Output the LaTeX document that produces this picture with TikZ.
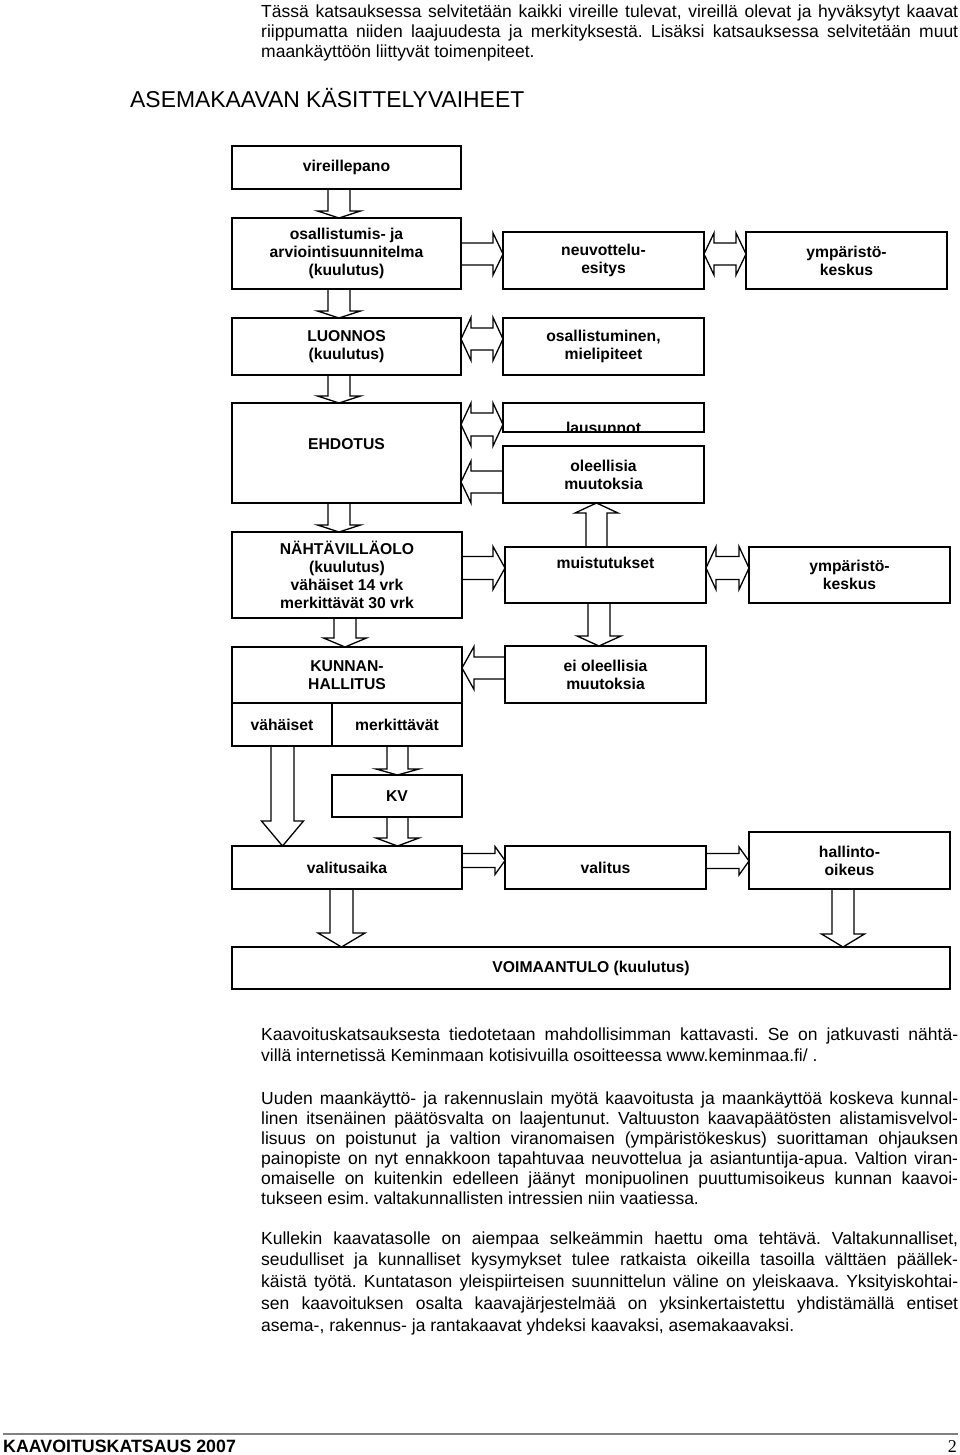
\documentclass[tikz,border=0pt]{standalone}
\usepackage{fontspec}
\setmainfont{Liberation Sans}
\newfontfamily\serifnum{Liberation Serif}
\usetikzlibrary{calc}
\frenchspacing
\tikzset{
  box/.style={draw, line width=1.6pt, inner sep=0pt, outer sep=0pt, align=center,
    font=\bfseries\fontsize{15.7}{18}\selectfont},
  lbl/.style={inner sep=0pt, font=\bfseries\fontsize{15.7}{18}\selectfont},
  blk/.style={draw, line width=1.3pt, line join=miter},
  txt/.style={anchor=base west, inner sep=0pt, font=\fontsize{17.5}{20}\selectfont}
}
\newcommand\bx[6]{\node[box, minimum width={(#4-#2)*1pt}, minimum height={(#5-#3)*1pt}] (#1) at ({(#2+#4)/2},{(#3+#5)/2}) {#6};}
\newcommand\arDown[6]{\draw[blk] let \p1=(#1.south), \p2=(#2.north) in
 (#3pt-#4pt,\y1) -- (#3pt-#4pt,\y2+#6pt) -- (#3pt-#5pt,\y2+#6pt) -- (#3pt,\y2) -- (#3pt+#5pt,\y2+#6pt) -- (#3pt+#4pt,\y2+#6pt) -- (#3pt+#4pt,\y1);}
\newcommand\arUp[6]{\draw[blk] let \p1=(#1.north), \p2=(#2.south) in
 (#3pt-#4pt,\y1) -- (#3pt-#4pt,\y2-#6pt) -- (#3pt-#5pt,\y2-#6pt) -- (#3pt,\y2) -- (#3pt+#5pt,\y2-#6pt) -- (#3pt+#4pt,\y2-#6pt) -- (#3pt+#4pt,\y1);}
\newcommand\arRight[6]{\draw[blk] let \p1=(#1.east), \p2=(#2.west) in
 (\x1,-#3pt+#4pt) -- (\x2-#6pt,-#3pt+#4pt) -- (\x2-#6pt,-#3pt+#5pt) -- (\x2,-#3pt) -- (\x2-#6pt,-#3pt-#5pt) -- (\x2-#6pt,-#3pt-#4pt) -- (\x1,-#3pt-#4pt);}
\newcommand\arLeft[6]{\draw[blk] let \p1=(#1.west), \p2=(#2.east) in
 (\x1,-#3pt+#4pt) -- (\x2+#6pt,-#3pt+#4pt) -- (\x2+#6pt,-#3pt+#5pt) -- (\x2,-#3pt) -- (\x2+#6pt,-#3pt-#5pt) -- (\x2+#6pt,-#3pt-#4pt) -- (\x1,-#3pt-#4pt);}
\newcommand\arBoth[6]{\draw[blk] let \p1=(#1.east), \p2=(#2.west) in
 (\x1,-#3pt) -- (\x1+#6pt,-#3pt+#5pt) -- (\x1+#6pt,-#3pt+#4pt) -- (\x2-#6pt,-#3pt+#4pt) -- (\x2-#6pt,-#3pt+#5pt) -- (\x2,-#3pt) -- (\x2-#6pt,-#3pt-#5pt) -- (\x2-#6pt,-#3pt-#4pt) -- (\x1+#6pt,-#3pt-#4pt) -- (\x1+#6pt,-#3pt-#5pt) -- cycle;}
\newcommand\jline[3]{\node[txt] (#1) at (261,#2) {\makebox[697pt][s]{#3}};}
\newcommand\rline[3]{\node[txt] (#1) at (261,#2) {#3};}
\begin{document}
\begin{tikzpicture}[x=1pt,y=-1pt]
\fill[white] (0,0) rectangle (960,1455);
\useasboundingbox (0,0) rectangle (960,1455);

% top paragraph
\jline{pa1}{18}{Tässä katsauksessa selvitetään kaikki vireille tulevat, vireillä olevat ja hyväksytyt kaavat}
\jline{pa2}{38}{riippumatta niiden laajuudesta ja merkityksestä. Lisäksi katsauksessa selvitetään muut}
\rline{pa3}{58}{maankäyttöön liittyvät toimenpiteet.}

\node[anchor=base west, inner sep=0pt, font=\fontsize{22.9}{26}\selectfont] (title) at (130,108) {ASEMAKAAVAN KÄSITTELYVAIHEET};

% boxes
\bx{vire}{232}{146}{461}{189}{vireillepano}
\bx{osal}{232}{218}{461}{289}{osallistumis- ja\\arviointisuunnitelma\\(kuulutus)}
\bx{neuv}{503}{232}{704}{289}{neuvottelu-\\esitys}
\bx{ymp1}{746}{232}{947}{289}{ympäristö-\\keskus}
\bx{luon}{232}{318}{461}{375}{LUONNOS\\(kuulutus)}
\bx{osmi}{503}{318}{704}{375}{osallistuminen,\\mielipiteet}
\bx{ehd}{232}{403}{461}{503}{}
\node[lbl] (ehdT) at (346.5,444) {EHDOTUS};
\bx{laus}{503}{403}{704}{432}{}
\begin{scope}
\clip (505,405) rectangle (702,430.6);
\node[lbl, anchor=base] (lausT) at (603.5,433) {lausunnot};
\end{scope}
\bx{oleel}{503}{446}{704}{503}{oleellisia\\muutoksia}
\bx{naht}{232}{532}{462}{618}{NÄHTÄVILLÄOLO\\(kuulutus)\\vähäiset 14 vrk\\merkittävät 30 vrk}
\bx{muist}{505}{547}{706}{603}{}
\node[lbl] (muistT) at (605.5,563) {muistutukset};
\bx{ymp2}{749}{547}{950}{603}{ympäristö-\\keskus}
\bx{kunn}{232}{647}{462}{703}{KUNNAN-\\HALLITUS}
\bx{eiol}{505}{646}{706}{703}{ei oleellisia\\muutoksia}
\bx{vah}{232}{703}{332}{746}{vähäiset}
\bx{merk}{332}{703}{462}{746}{merkittävät}
\bx{kv}{332}{775}{462}{817}{KV}
\bx{vala}{232}{846}{462}{889}{valitusaika}
\bx{val}{505}{846}{706}{889}{valitus}
\bx{hall}{749}{832}{950}{889}{hallinto-\\oikeus}
\bx{voim}{232}{947}{950}{989}{VOIMAANTULO (kuulutus)}

% block arrows
\arDown{vire}{osal}{339}{11}{21.5}{7}
\arDown{osal}{luon}{339}{11}{21.5}{7}
\arDown{luon}{ehd}{339}{11}{21.5}{7}
\arDown{ehd}{naht}{339}{11}{21.5}{7}
\arDown{naht}{kunn}{345}{11}{21.5}{9}
\arRight{osal}{neuv}{254}{11}{21}{10}
\arBoth{neuv}{ymp1}{254}{11}{21}{10}
\arBoth{luon}{osmi}{339}{11}{21.5}{10}
\arBoth{ehd}{laus}{424.5}{11.5}{21.5}{10}
\arLeft{oleel}{ehd}{482}{11}{21}{10}
\arUp{muist}{oleel}{596.5}{10.5}{21.5}{10}
\arRight{naht}{muist}{568}{11.5}{21.5}{12}
\arBoth{muist}{ymp2}{568}{11.5}{21.5}{10}
\arDown{muist}{eiol}{599}{11}{22}{10}
\arLeft{eiol}{kunn}{668}{11}{21.5}{12}
\arDown{merk}{kv}{397.5}{10.5}{21.5}{6}
\arDown{vah}{vala}{282.5}{11.5}{21}{25}
\arDown{kv}{vala}{397.5}{10.5}{21.5}{8}
\arRight{vala}{val}{860.5}{7}{14}{10}
\arRight{val}{hall}{861}{7.5}{14}{10}
\arDown{vala}{voim}{341.5}{11.5}{23.5}{14}
\arDown{hall}{voim}{843}{11}{21.5}{13}

% lower paragraphs
\jline{pb1}{1040}{Kaavoituskatsauksesta tiedotetaan mahdollisimman kattavasti. Se on jatkuvasti nähtä-}
\rline{pb2}{1061}{villä internetissä Keminmaan kotisivuilla osoitteessa www.keminmaa.fi/ .}

\jline{pc1}{1104}{Uuden maankäyttö- ja rakennuslain myötä kaavoitusta ja maankäyttöä koskeva kunnal-}
\jline{pc2}{1124}{linen itsenäinen päätösvalta on laajentunut. Valtuuston kaavapäätösten alistamisvelvol-}
\jline{pc3}{1144}{lisuus on poistunut ja valtion viranomaisen (ympäristökeskus) suorittaman ohjauksen}
\jline{pc4}{1164}{painopiste on nyt ennakkoon tapahtuvaa neuvottelua ja asiantuntija-apua. Valtion viran-}
\jline{pc5}{1184}{omaiselle on kuitenkin edelleen jäänyt monipuolinen puuttumisoikeus kunnan kaavoi-}
\rline{pc6}{1204}{tukseen esim. valtakunnallisten intressien niin vaatiessa.}

\jline{pd1}{1244}{Kullekin kaavatasolle on aiempaa selkeämmin haettu oma tehtävä. Valtakunnalliset,}
\jline{pd2}{1265}{seudulliset ja kunnalliset kysymykset tulee ratkaista oikeilla tasoilla välttäen päällek-}
\jline{pd3}{1287}{käistä työtä. Kuntatason yleispiirteisen suunnittelun väline on yleiskaava. Yksityiskohtai-}
\jline{pd4}{1309}{sen kaavoituksen osalta kaavajärjestelmää on yksinkertaistettu yhdistämällä entiset}
\rline{pd5}{1331}{asema-, rakennus- ja rantakaavat yhdeksi kaavaksi, asemakaavaksi.}

% footer
\coordinate (fl) at (3,1434);
\coordinate (fr) at (958,1434);
\draw[line width=2pt, gray] (fl) -- (fr);
\node[anchor=base west, inner sep=0pt, font=\bfseries\fontsize{17.8}{20}\selectfont] (foot) at (3,1452) {KAAVOITUSKATSAUS 2007};
\node[anchor=base east, inner sep=0pt, font=\serifnum\fontsize{18}{20}\selectfont] (pnum) at (957,1452) {2};
\end{tikzpicture}
\end{document}
